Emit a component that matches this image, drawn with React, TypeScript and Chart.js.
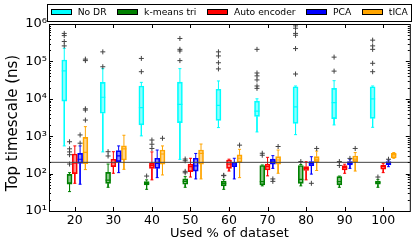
import React, { useEffect, useRef } from 'react';
import { Chart, registerables } from 'chart.js';
Chart.register(...registerables);

const GROUPS = [20, 30, 40, 50, 60, 70, 80, 90, 100];
const METHODS = ['No DR', 'k-means tri', 'Auto encoder', 'PCA', 'tICA'];
const THRESHOLD = 200;
const Y_MIN = 10;
const Y_MAX = 1000000;

// No DR
const NODR_LO = [550, 380, 1020, 240, 1700, 1300, 1100, 2000, 1730];
const NODR_Q1 = [8700, 4100, 2000, 2300, 2660, 3400, 2200, 2950, 3000];
const NODR_MED = [56000, 11000, 5800, 7100, 6700, 4700, 6100, 7900, 9900];
const NODR_Q3 = [109000, 27500, 22000, 28000, 18000, 8700, 21000, 19000, 21000];
const NODR_HI = [224000, 64000, 27500, 64000, 30000, 10000, 22000, 30500, 22000];
const NODR_FLIERS = [
  [560000, 490000, 340000, 260000],
  [180000, 72000],
  [120000, 53000],
  [410000, 210000, 190000, 105000],
  [180000, 140000, 92000, 63000],
  [210000, 49000, 41000, 32000, 22000, 19000],
  [890000, 770000, 560000, 500000, 220000, 46000],
  [130000, 55000],
  [370000, 260000, 210000, 89000, 53000],
];

// k-means tri
const KM_LO = [33, 43, 38, 43, 38, 47, 47, 43, 43];
const KM_Q1 = [52, 55, 50, 52, 47, 50, 55, 50, 52];
const KM_MED = [57, 67, 55, 62, 55, 61, 70, 61, 57];
const KM_Q3 = [95, 108, 61, 72, 63, 165, 165, 83, 63];
const KM_HI = [106, 180, 68, 83, 70, 170, 175, 86, 70];
const KM_FLIERS = [[710, 460, 380, 320, 180], [385, 296], [86], [245, 220, 115, 105], [90, 88], [350, 310], [210], [210, 165], [81]];

// Auto encoder
const AE_LO = [55, 102, 68, 81, 117, 87, 68, 102, 106];
const AE_Q1 = [100, 153, 138, 113, 138, 125, 121, 125, 131];
const AE_MED = [190, 195, 163, 153, 180, 153, 138, 145, 153];
const AE_Q3 = [334, 242, 188, 180, 231, 180, 153, 163, 170];
const AE_HI = [550, 385, 380, 257, 243, 272, 208, 178, 188];
const AE_FLIERS = [[], [], [790, 610, 470], [], [], [], [], [], []];

// PCA
const PCA_LO = [52, 106, 78, 72, 72, 138, 97, 138, 153];
const PCA_Q1 = [188, 208, 138, 117, 153, 180, 163, 170, 170];
const PCA_MED = [242, 296, 188, 160, 178, 215, 188, 188, 188];
const PCA_Q3 = [349, 410, 257, 257, 200, 243, 208, 208, 208];
const PCA_HI = [550, 550, 427, 346, 257, 302, 283, 242, 231];
const PCA_FLIERS = [[1080, 650], [], [], [], [], [72, 62], [55], [255], [242]];

// tICA
const TICA_LO = [128, 130, 92, 72, 78, 102, 121, 117, 257];
const TICA_Q1 = [185, 231, 180, 180, 200, 180, 208, 208, 266];
const TICA_MED = [370, 460, 334, 346, 257, 231, 242, 243, 316];
const TICA_Q3 = [930, 550, 427, 427, 316, 283, 283, 296, 346];
const TICA_HI = [1800, 1060, 550, 617, 446, 427, 400, 365, 365];
const TICA_FLIERS = [[115000, 105000, 5400, 5000, 2700], [], [880], [], [577], [530], [470], [470], []];

const SERIES = [
  { lo: NODR_LO, q1: NODR_Q1, med: NODR_MED, q3: NODR_Q3, hi: NODR_HI, fliers: NODR_FLIERS },
  { lo: KM_LO, q1: KM_Q1, med: KM_MED, q3: KM_Q3, hi: KM_HI, fliers: KM_FLIERS },
  { lo: AE_LO, q1: AE_Q1, med: AE_MED, q3: AE_Q3, hi: AE_HI, fliers: AE_FLIERS },
  { lo: PCA_LO, q1: PCA_Q1, med: PCA_MED, q3: PCA_Q3, hi: PCA_HI, fliers: PCA_FLIERS },
  { lo: TICA_LO, q1: TICA_Q1, med: TICA_MED, q3: TICA_Q3, hi: TICA_HI, fliers: TICA_FLIERS },
];

// styles
const FONT = '"DejaVu Sans", sans-serif';
const EDGE = ['#00ffff', '#008000', '#ff0000', '#0000ff', '#ffa500'];
const FILL = ['rgba(0,255,255,0.45)', 'rgba(0,128,0,0.45)', 'rgba(255,0,0,0.45)', 'rgba(0,0,255,0.45)', 'rgba(255,165,0,0.45)'];
const OFFSET_STEP = 1.37;
const SUP = ['⁰', '¹', '²', '³', '⁴', '⁵', '⁶', '⁷', '⁸', '⁹'];

const isDecade = (v: number) => Math.abs(Math.log10(v) - Math.round(Math.log10(v))) < 1e-9;

const decorPlugin = {
  id: 'decor',
  afterDatasetsDraw(chart: any) {
    const { ctx, chartArea: a, scales } = chart;
    const xs = scales.x;
    const ys = scales.y;
    ctx.save();
    ctx.strokeStyle = '#000';
    ctx.lineWidth = 1;
    ctx.beginPath();
    for (const t of xs.ticks) {
      const px = Math.round(xs.getPixelForValue(t.value)) + 0.5;
      ctx.moveTo(px, a.bottom);
      ctx.lineTo(px, a.bottom - 4);
      ctx.moveTo(px, a.top);
      ctx.lineTo(px, a.top + 4);
    }
    for (const t of ys.ticks) {
      const py = Math.round(ys.getPixelForValue(t.value)) + 0.5;
      const len = isDecade(t.value) ? 4 : 2;
      ctx.moveTo(a.left, py);
      ctx.lineTo(a.left + len, py);
      ctx.moveTo(a.right, py);
      ctx.lineTo(a.right - len, py);
    }
    ctx.stroke();
    ctx.strokeRect(a.left + 0.5, a.top + 0.5, a.right - a.left, a.bottom - a.top);

    // legend
    ctx.strokeRect(47.5, 4.5, 364, 17);
    ctx.font = '9.2px ' + FONT;
    ctx.textBaseline = 'middle';
    ctx.textAlign = 'left';
    let x = 50.7;
    METHODS.forEach((m, i) => {
      ctx.fillStyle = EDGE[i];
      ctx.fillRect(Math.round(x), 9, 21, 6);
      ctx.strokeStyle = '#000';
      ctx.strokeRect(Math.round(x) + 0.5, 9.5, 20, 5);
      ctx.fillStyle = '#000';
      const tx = x + 27;
      ctx.fillText(m, tx, 12.5);
      x = tx + ctx.measureText(m).width + 10.5;
    });

    // y title
    ctx.save();
    ctx.translate(13, 123);
    ctx.rotate(-Math.PI / 2);
    ctx.font = '15px ' + FONT;
    ctx.textAlign = 'center';
    ctx.textBaseline = 'middle';
    ctx.fillStyle = '#000';
    ctx.fillText('Top timescale (ns)', 0, 0);
    ctx.restore();
    ctx.restore();
  },
};

function buildDatasets() {
  const ds: any[] = [];
  const fliers: any[] = [];
  SERIES.forEach((s, i) => {
    const off = (i - 2) * OFFSET_STEP;
    ds.push({
      type: 'bar',
      label: METHODS[i],
      data: GROUPS.map((g, j) => ({ x: g + off, y: [s.q1[j], s.q3[j]] })),
      backgroundColor: FILL[i],
      borderColor: EDGE[i],
      borderWidth: 1,
      borderSkipped: false,
      barThickness: 5,
      grouped: false,
      order: 5,
    });
    const wh: any[] = [];
    GROUPS.forEach((g, j) => {
      const x = g + off;
      wh.push({ x, y: s.q3[j] }, { x, y: s.hi[j] }, { x, y: null });
      wh.push({ x, y: s.q1[j] }, { x, y: s.lo[j] }, { x, y: null });
    });
    ds.push({
      type: 'line',
      data: wh,
      borderColor: EDGE[i],
      borderWidth: 1,
      pointRadius: 0,
      spanGaps: false,
      fill: false,
      order: 4,
    });
    const caps: any[] = [];
    GROUPS.forEach((g, j) => {
      caps.push({ x: g + off, y: s.lo[j] }, { x: g + off, y: s.hi[j] });
    });
    ds.push({
      type: 'scatter',
      data: caps,
      pointStyle: 'line',
      pointRadius: 1.5,
      borderColor: EDGE[i],
      borderWidth: 1,
      order: 3,
    });
    ds.push({
      type: 'scatter',
      data: GROUPS.map((g, j) => ({ x: g + off, y: s.med[j] })),
      pointStyle: 'line',
      pointRadius: 2.5,
      borderColor: EDGE[i],
      borderWidth: 1.2,
      order: 2,
    });
    GROUPS.forEach((g, j) => {
      s.fliers[j].forEach((f) => fliers.push({ x: g + off, y: f }));
    });
  });
  ds.push({
    type: 'scatter',
    data: fliers,
    pointStyle: 'cross',
    pointRadius: 2.5,
    borderColor: '#444',
    borderWidth: 1,
    order: 2,
  });
  ds.push({
    type: 'line',
    data: [{ x: 0, y: THRESHOLD }, { x: 200, y: THRESHOLD }],
    borderColor: '#444',
    borderWidth: 1,
    pointRadius: 0,
    order: 1,
  });
  return ds;
}

export default function App() {
  const ref = useRef<HTMLCanvasElement | null>(null);
  useEffect(() => {
    if (!ref.current) return;
    const chart = new Chart(ref.current, {
      type: 'scatter',
      data: { datasets: buildDatasets() },
      options: {
        animation: false,
        responsive: false,
        events: [],
        layout: { padding: { left: 0, top: 24, right: 5, bottom: 0 } },
        plugins: { legend: { display: false }, tooltip: { enabled: false } },
        scales: {
          x: {
            type: 'linear',
            min: 13.3,
            max: 106.9,
            offset: false,
            grid: { display: false, drawTicks: false },
            border: { display: false },
            ticks: {
              font: { family: FONT, size: 12.5 },
              color: '#000',
              padding: 2,
              autoSkip: false,
              maxRotation: 0,
              callback: (v: any) => String(v),
            },
            afterBuildTicks: (s: any) => {
              s.ticks = GROUPS.map((v) => ({ value: v }));
            },
            afterFit: (s: any) => {
              s.height = 36;
            },
            title: {
              display: true,
              text: 'Used % of dataset',
              font: { family: FONT, size: 13 },
              color: '#000',
              padding: { top: 0, bottom: 6 },
            },
          },
          y: {
            type: 'logarithmic',
            min: Y_MIN,
            max: Y_MAX,
            grid: { display: false, drawTicks: false },
            border: { display: false },
            ticks: {
              font: { family: FONT, size: 13 },
              color: '#000',
              padding: 2,
              autoSkip: false,
              callback: (v: any) => {
                const n = Number(v);
                if (!isDecade(n)) return '';
                return '10' + SUP[Math.round(Math.log10(n))];
              },
            },
            afterBuildTicks: (s: any) => {
              const t: any[] = [];
              for (let e = 1; e <= 6; e++) {
                const base = Math.pow(10, e);
                t.push({ value: base });
                if (e < 6) for (let k = 2; k <= 9; k++) t.push({ value: base * k });
              }
              s.ticks = t;
            },
            afterFit: (s: any) => {
              s.width = 49;
            },
          },
        },
      },
      plugins: [decorPlugin],
    } as any);
    return () => chart.destroy();
  }, []);
  return (
    <div style={{ position: 'absolute', left: 0, top: 0, width: 415, height: 247 }}>
      <canvas ref={ref} width={415} height={247} style={{ display: 'block' }} />
    </div>
  );
}
